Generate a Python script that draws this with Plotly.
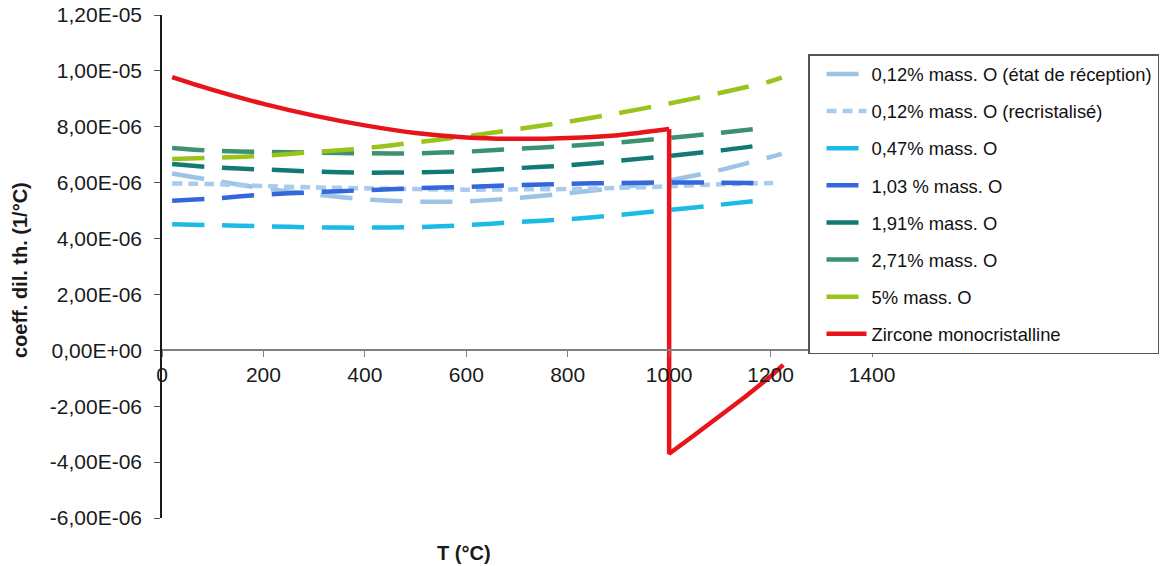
import plotly.graph_objects as go

# ---- data (values in 1e-6 /°C) ----
T_rec = [20, 100, 200, 300, 400, 500, 600, 700, 800, 900, 1000, 1100, 1200, 1222]
v_rec = [6.33, 6.08, 5.80, 5.58, 5.40, 5.32, 5.33, 5.45, 5.62, 5.82, 6.08, 6.45, 6.92, 7.03]

T_recr = [20, 100, 200, 300, 400, 500, 600, 700, 800, 900, 1000, 1100, 1205]
v_recr = [5.97, 5.95, 5.88, 5.83, 5.80, 5.77, 5.75, 5.76, 5.77, 5.81, 5.87, 5.94, 5.99]

T_std = [20, 100, 200, 300, 400, 500, 600, 700, 800, 900, 1000, 1100, 1190]
v_047 = [4.51, 4.48, 4.44, 4.40, 4.39, 4.41, 4.48, 4.59, 4.69, 4.84, 5.02, 5.21, 5.38]
v_103 = [5.35, 5.43, 5.57, 5.66, 5.73, 5.80, 5.85, 5.91, 5.96, 5.99, 6.01, 6.00, 5.98]
v_191 = [6.67, 6.55, 6.47, 6.40, 6.36, 6.37, 6.41, 6.52, 6.62, 6.78, 6.96, 7.15, 7.36]
v_271 = [7.24, 7.14, 7.10, 7.07, 7.05, 7.05, 7.11, 7.21, 7.31, 7.44, 7.60, 7.78, 7.96]

T_5 = [20, 100, 200, 300, 400, 500, 600, 700, 800, 900, 1000, 1100, 1200, 1222]
v_5 = [6.85, 6.89, 6.96, 7.10, 7.23, 7.44, 7.66, 7.91, 8.18, 8.49, 8.83, 9.21, 9.63, 9.76]

# monocrystalline zirconia: before the transformation (smooth) and after it
T_zr_a = [20, 100, 200, 300, 400, 500, 600, 700, 800, 900, 1000]
v_zr_a = [9.78, 9.32, 8.82, 8.40, 8.05, 7.78, 7.62, 7.57, 7.60, 7.70, 7.92]
T_zr_b = [1000, 1000, 1050, 1100, 1150, 1200, 1225]
v_zr_b = [7.92, -3.70, -3.03, -2.36, -1.66, -0.93, -0.52]

names = ["0,12% mass. O (état de réception)", "0,12% mass. O (recristalisé)",
         "0,47% mass. O", "1,03 % mass. O", "1,91% mass. O", "2,71% mass. O",
         "5% mass. O", "Zircone monocristalline"]

x_ticks = [0, 200, 400, 600, 800, 1000, 1200, 1400]
y_tickvals = [-6, -4, -2, 0, 2, 4, 6, 8, 10, 12]
y_ticktext = ["-6,00E-06", "-4,00E-06", "-2,00E-06", "0,00E+00", "2,00E-06",
              "4,00E-06", "6,00E-06", "8,00E-06", "1,00E-05", "1,20E-05"]

FONT = "Liberation Sans, Arial, sans-serif"
LONG = "32px,18px"
SHORT = "10px,6px"
RED = "#E8141B"

series = [
    (T_rec, v_rec, "#9DC3E6", LONG),
    (T_recr, v_recr, "#A9CBEE", SHORT),
    (T_std, v_047, "#1CBBE6", LONG),
    (T_std, v_103, "#3466DC", LONG),
    (T_std, v_191, "#127A74", LONG),
    (T_std, v_271, "#3C9170", LONG),
    (T_5, v_5, "#9AC31C", LONG),
]

fig = go.Figure()
for i, (tx, vy, col, dash) in enumerate(series):
    fig.add_trace(go.Scatter(
        x=tx, y=[v * 1e-6 for v in vy], mode="lines", name=names[i],
        legendgroup=f"g{i}",
        line=dict(color=col, width=4.5, dash=dash, shape="spline", smoothing=0.6),
    ))
fig.add_trace(go.Scatter(
    x=T_zr_a, y=[v * 1e-6 for v in v_zr_a], mode="lines", name=names[7],
    legendgroup="g7",
    line=dict(color=RED, width=4.5, shape="spline", smoothing=0.6),
))
fig.add_trace(go.Scatter(
    x=T_zr_b, y=[v * 1e-6 for v in v_zr_b], mode="lines", name=names[7],
    legendgroup="g7", showlegend=False,
    line=dict(color=RED, width=4.5),
))

L, R, TOP, BOT = 162, 872, 15, 518
W, H = 1166, 566


def px(xw):
    return (xw - L) / (R - L)


def py(yw):
    return (BOT - yw) / (BOT - TOP)


fig.update_layout(
    width=W, height=H,
    margin=dict(l=L, r=W - R, t=TOP, b=H - BOT, pad=0, autoexpand=False),
    paper_bgcolor="white", plot_bgcolor="white",
    font=dict(family=FONT, size=21, color="#1a1a1a"),
    showlegend=True,
    legend=dict(
        x=px(808), y=py(54),
        xanchor="left", yanchor="top",
        bgcolor="white", bordercolor="#555555", borderwidth=1.5,
        font=dict(family=FONT, size=18.4, color="#111111"),
        tracegroupgap=10.2, itemwidth=40, indentation=12,
        traceorder="grouped",
    ),
    xaxis=dict(
        range=[0, 1400], tickvals=x_ticks, ticktext=[str(t) for t in x_ticks],
        showgrid=False, zeroline=False, showline=True, linecolor="#808080",
        linewidth=1.5, ticks="outside", ticklen=6, tickcolor="#808080",
        anchor="free", position=6 / 18, automargin=False,
        ticklabeloverflow="allow",
        tickfont=dict(size=21, color="#1a1a1a"),
    ),
    yaxis=dict(
        range=[-6e-6, 12e-6], tickvals=[v * 1e-6 for v in y_tickvals],
        ticktext=y_ticktext, showgrid=False, zeroline=False, showline=True,
        linecolor="#1a1a1a", linewidth=1.5, ticks="outside", ticklen=6,
        tickcolor="#555555", ticklabelstandoff=8, automargin=False,
        ticklabeloverflow="allow",
        tickfont=dict(size=21, color="#1a1a1a"),
    ),
    annotations=[
        dict(text="<b>T (°C)</b>", xref="paper", yref="paper",
             x=px(464), y=py(553),
             xanchor="center", yanchor="middle", showarrow=False,
             font=dict(size=20, color="#1a1a1a")),
        dict(text="<b>coeff. dil. th. (1/°C)</b>", xref="paper", yref="paper",
             x=px(20), y=py(270),
             xanchor="center", yanchor="middle", showarrow=False, textangle=-90,
             font=dict(size=20, color="#1a1a1a")),
    ],
)

fig.write_html(
    "out.html",
    config={"displayModeBar": False},
    post_script="document.body.style.margin='0';document.body.style.overflow='hidden';",
)
